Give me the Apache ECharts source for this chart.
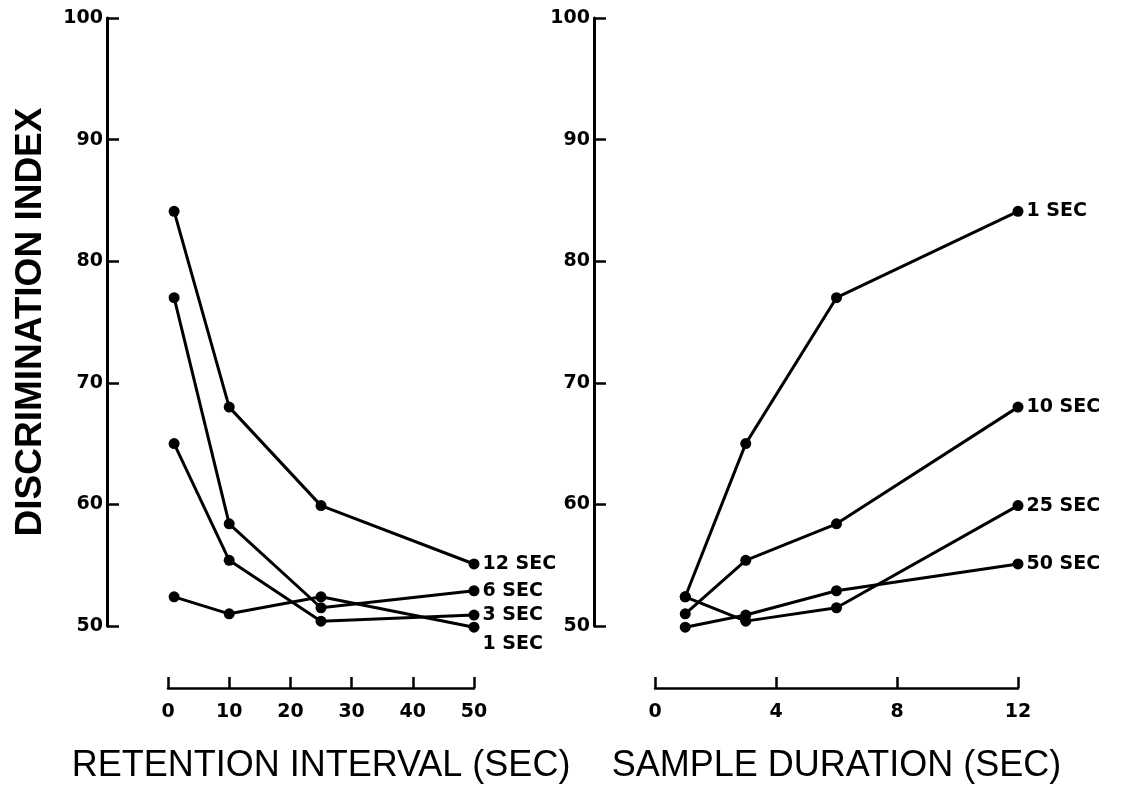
<!DOCTYPE html>
<html>
<head>
<meta charset="utf-8">
<script src="https://cdn.jsdelivr.net/npm/echarts@6/dist/echarts.min.js"></script>
<style>
  html, body { margin: 0; background: #fff; }
  #chart { width: 1122px; height: 789px; }
</style>
</head>
<body>
<div id="chart"></div>
<script>
// x values of the two panels
const retentionIntervals = [1, 10, 25, 50]
const sampleDurations = [1, 3, 6, 12]

// discrimination index for each sample duration, one value per retention interval
const sample1 = [52.4, 51.0, 52.4, 49.9]
const sample3 = [65.0, 55.4, 50.4, 50.9]
const sample6 = [77.0, 58.4, 51.5, 52.9]
const sample12 = [84.1, 68.0, 59.9, 55.1]

const leftNames = ["1 SEC", "3 SEC", "6 SEC", "12 SEC"]
const rightNames = ["1 SEC", "10 SEC", "25 SEC", "50 SEC"]

const yTicks = [50, 60, 70, 80, 90, 100]
const leftTicks = [0, 10, 20, 30, 40, 50]
const rightTicks = [0, 4, 8, 12]

const ink = "#000"
const numFont = { color: ink, fontFamily: "DejaVu Sans", fontWeight: "bold", fontSize: 19 }

function lineSeries(name, xs, ys, idx, offset) {
  return {
    type: "line",
    name: name,
    xAxisIndex: idx,
    yAxisIndex: idx,
    symbol: "circle",
    symbolSize: 11,
    showSymbol: true,
    clip: false,
    silent: true,
    lineStyle: { color: ink, width: 3 },
    itemStyle: { color: ink },
    label: {
      show: false,
      position: "right",
      distance: 3,
      formatter: name,
      ...numFont
    },
    data: xs.map((x, i) => {
      const item = { value: [x, ys[i]] }
      if (i === xs.length - 1) item.label = { show: true, offset: offset || [0, 0] }
      return item
    })
  }
}

function yAxis(idx, offset, withName) {
  const ax = {
    gridIndex: idx,
    type: "value",
    min: yTicks[0],
    max: yTicks[yTicks.length - 1],
    interval: yTicks[1] - yTicks[0],
    position: "left",
    offset: offset,
    axisLine: { show: true, onZero: false, lineStyle: { color: ink, width: 3 } },
    axisTick: { show: true, inside: true, length: 12, lineStyle: { color: ink, width: 2.5 } },
    axisLabel: { margin: 4, ...numFont },
    splitLine: { show: false }
  }
  if (withName) {
    ax.name = "DISCRIMINATION INDEX"
    ax.nameLocation = "middle"
    ax.nameRotate = 90
    ax.nameGap = 58
    ax.nameTextStyle = { color: ink, fontFamily: "Liberation Sans", fontWeight: "bold", fontSize: 37 }
  }
  return ax
}

function xAxis(idx, ticks, name) {
  return {
    gridIndex: idx,
    type: "value",
    min: ticks[0],
    max: ticks[ticks.length - 1],
    interval: ticks[1] - ticks[0],
    offset: 62,
    axisLine: { show: true, onZero: false, lineStyle: { color: ink, width: 2.5 } },
    axisTick: { show: true, inside: true, length: 11, lineStyle: { color: ink, width: 2.5 } },
    axisLabel: { margin: 15, ...numFont },
    splitLine: { show: false },
    name: name,
    nameLocation: "middle",
    nameGap: 60,
    nameTextStyle: { color: ink, fontFamily: "Liberation Sans", fontSize: 36 }
  }
}

const bySample = [sample1, sample3, sample6, sample12]
// right panel: same values, grouped by retention interval
const byRetention = retentionIntervals.map((_, i) => bySample.map(s => s[i]))

const series = []
bySample.forEach((ys, k) => {
  series.push(lineSeries(leftNames[k], retentionIntervals, ys, 0, k === 0 ? [0, 17] : null))
})
byRetention.forEach((ys, k) => {
  series.push(lineSeries(rightNames[k], sampleDurations, ys, 1, null))
})

const chart = echarts.init(document.getElementById("chart"), null, { renderer: "canvas" })
chart.setOption({
  animation: false,
  backgroundColor: "#fff",
  grid: [
    { left: 168, top: 18, width: 306, height: 612 },
    { left: 655, top: 18, width: 363, height: 612 }
  ],
  xAxis: [
    xAxis(0, leftTicks, "RETENTION INTERVAL (SEC)"),
    xAxis(1, rightTicks, "SAMPLE DURATION (SEC)")
  ],
  yAxis: [yAxis(0, 61, true), yAxis(1, 61, false)],
  series: series
})
</script>
</body>
</html>
